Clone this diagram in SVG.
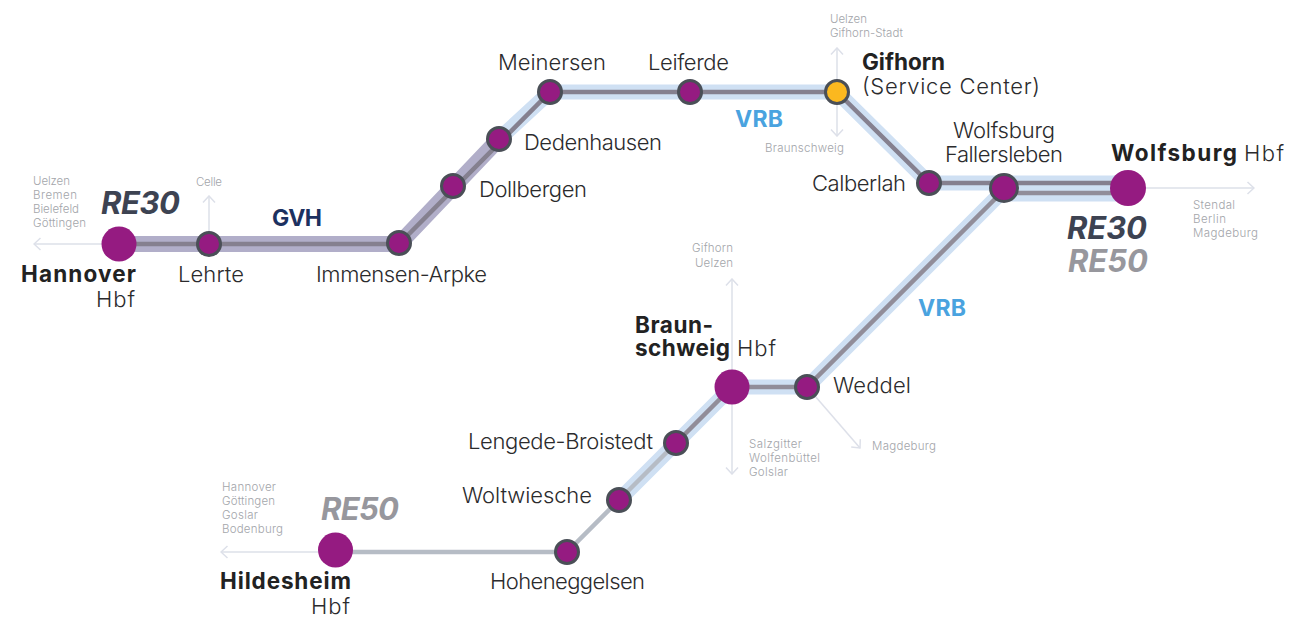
<svg xmlns="http://www.w3.org/2000/svg" width="1300" height="632" viewBox="0 0 1300 632">
<style>
text{font-family:"Inter","Liberation Sans",sans-serif;fill:#2b2b2d}
.n{font-size:22px;font-weight:300}
.b{font-size:22.5px;font-weight:700;fill:#222}
.s{font-size:11.500px;fill:#a3a5aa;font-weight:300}
.re{font-size:31px;font-weight:700;font-style:italic}
.r3{fill:#3d4352}.r5{fill:#97979d}
.net{font-size:23px;font-weight:700}
.band{fill:none;stroke:#cfe0f3;stroke-width:15}
.vio{fill:none;stroke:#b1aec9;stroke-width:16}
.core{fill:none;stroke:#85808f;stroke-width:4.5}
.core2{fill:none;stroke:#918d99;stroke-width:4.5}
.core3{fill:none;stroke:#b6bcc5;stroke-width:4.5}
.arr{fill:none;stroke:#dde0e9;stroke-width:1.5;marker-end:url(#chev)}
.st{fill:#951b81;stroke:#4a4f57;stroke-width:3}
.hub{fill:#951b81}
</style>
<defs>
<marker id="chev" viewBox="0 0 14 14" refX="13" refY="7" markerWidth="14" markerHeight="14" markerUnits="userSpaceOnUse" orient="auto">
<path d="M6.500 1L13 7L6.500 13" fill="none" stroke="#dde0e9" stroke-width="1.5"/>
</marker>
</defs>
<g id="connectors">
<path class="arr" d="M119 244H34"/>
<path class="arr" d="M209 232V196"/>
<path class="arr" d="M837 80V48"/>
<path class="arr" d="M837 104V136"/>
<path class="arr" d="M1146 188H1254"/>
<path class="arr" d="M732 370V279"/>
<path class="arr" d="M732 404V474"/>
<path class="arr" d="M815 396L860 448"/>
<path class="arr" d="M318 552H221"/>
<path class="vio" d="M119 244H399L499 139"/>
<path class="band" d="M499 139L550 92H837L929 183H1004"/>
<path class="band" d="M1004 183H1128M1004 194H1128"/>
<path class="band" d="M619 500L732 387H807L1004 190"/>
<path class="core" d="M119 244H399L550 92H837L929 183H1128"/>
<path class="core2" d="M1004 193H1128M1004 190L807 387H732L676 443"/>
<path class="core3" d="M335 552H567L619 500L676 443"/>
</g>
<g id="hannover"><circle class="hub" cx="119" cy="244" r="17.500"/>
<text class="b" x="21" y="282" textLength="115">Hannover</text><text class="n" x="96" y="307" textLength="39">Hbf</text>
<text class="s" x="33" y="185" textLength="37">Uelzen</text><text class="s" x="33" y="199" textLength="44">Bremen</text><text class="s" x="33" y="213" textLength="46">Bielefeld</text><text class="s" x="33" y="227" textLength="53">Göttingen</text>
<text class="re r3" x="101" y="214" textLength="79">RE30</text></g>
<g id="lehrte"><circle class="st" cx="209" cy="244" r="11.500"/><text class="n" x="178" y="282" textLength="66">Lehrte</text><text class="s" x="196" y="186" textLength="26">Celle</text></g>
<g id="gvh"><text class="net" x="272" y="226" textLength="50" style="fill:#1c3160">GVH</text></g>
<g id="immensen"><circle class="st" cx="399" cy="243" r="11.500"/><text class="n" x="316" y="282" textLength="171">Immensen-Arpke</text></g>
<g id="dollbergen"><circle class="st" cx="453" cy="186" r="11.500"/><text class="n" x="479" y="197" textLength="108">Dollbergen</text></g>
<g id="dedenhausen"><circle class="st" cx="499" cy="139" r="11.500"/><text class="n" x="524" y="150" textLength="138">Dedenhausen</text></g>
<g id="meinersen"><circle class="st" cx="550" cy="92" r="11.500"/><text class="n" x="498" y="70" textLength="108">Meinersen</text></g>
<g id="leiferde"><circle class="st" cx="690" cy="92" r="11.500"/><text class="n" x="648" y="70" textLength="81">Leiferde</text></g>
<g id="vrb1"><text class="net" x="735" y="127" textLength="48" style="fill:#4aa3df">VRB</text></g>
<g id="gifhorn"><circle cx="837" cy="92" r="11.500" fill="#fbb81f" stroke="#4a4f57" stroke-width="3"/>
<text class="b" x="862" y="70" textLength="83">Gifhorn</text><text class="n" x="862" y="94" textLength="178">(Service Center)</text>
<text class="s" x="830" y="23" textLength="37">Uelzen</text><text class="s" x="830" y="37" textLength="73">Gifhorn-Stadt</text><text class="s" x="765" y="152" textLength="79">Braunschweig</text></g>
<g id="calberlah"><circle class="st" cx="929" cy="183" r="11.500"/><text class="n" x="812" y="191" textLength="94">Calberlah</text></g>
<g id="fallersleben"><circle class="st" cx="1004" cy="188" r="13.500"/><text class="n" x="953" y="138" textLength="102">Wolfsburg</text><text class="n" x="945" y="162" textLength="118">Fallersleben</text></g>
<g id="wolfsburg"><circle class="hub" cx="1128" cy="188" r="18"/>
<text class="b" x="1111" y="161" textLength="126">Wolfsburg</text><text class="n" x="1244" y="161" textLength="40">Hbf</text>
<text class="re r3" x="1067" y="239" textLength="80">RE30</text><text class="re r5" x="1068" y="272" textLength="80">RE50</text>
<text class="s" x="1193" y="209" textLength="42">Stendal</text><text class="s" x="1193" y="223" textLength="33">Berlin</text><text class="s" x="1193" y="237" textLength="65">Magdeburg</text></g>
<g id="vrb2"><text class="net" x="918" y="316" textLength="48" style="fill:#4aa3df">VRB</text></g>
<g id="weddel"><circle class="st" cx="807" cy="387" r="11.500"/><text class="n" x="833" y="393" textLength="78">Weddel</text><text class="s" x="872" y="450" textLength="64">Magdeburg</text></g>
<g id="braunschweig"><circle class="hub" cx="732" cy="387" r="17.500"/>
<text class="b"><tspan x="635" y="333" textLength="78">Braun-</tspan><tspan x="635" y="356" textLength="95">schweig</tspan></text><text class="n" x="737" y="356" textLength="39">Hbf</text>
<text class="s" x="692" y="252" textLength="41">Gifhorn</text><text class="s" x="695" y="267" textLength="38">Uelzen</text>
<text class="s" x="749" y="448" textLength="53">Salzgitter</text><text class="s" x="749" y="462" textLength="71">Wolfenbüttel</text><text class="s" x="749" y="476" textLength="39">Golslar</text></g>
<g id="lengede"><circle class="st" cx="676" cy="443" r="11.500"/><text class="n" x="468" y="449" textLength="185">Lengede-Broistedt</text></g>
<g id="woltwiesche"><circle class="st" cx="619" cy="500" r="11.500"/><text class="n" x="462" y="503" textLength="130">Woltwiesche</text></g>
<g id="hoheneggelsen"><circle class="st" cx="567" cy="552" r="11.500"/><text class="n" x="490" y="589" textLength="155">Hoheneggelsen</text></g>
<g id="hildesheim"><circle class="hub" cx="335.500" cy="550" r="17.500"/>
<text class="b" x="220" y="589" textLength="131">Hildesheim</text><text class="n" x="311" y="614" textLength="39">Hbf</text>
<text class="re r5" x="321" y="520" textLength="78">RE50</text>
<text class="s" x="222" y="491" textLength="54">Hannover</text><text class="s" x="222" y="505" textLength="53">Göttingen</text><text class="s" x="222" y="519" textLength="36">Goslar</text><text class="s" x="222" y="533" textLength="61">Bodenburg</text></g>
</svg>
